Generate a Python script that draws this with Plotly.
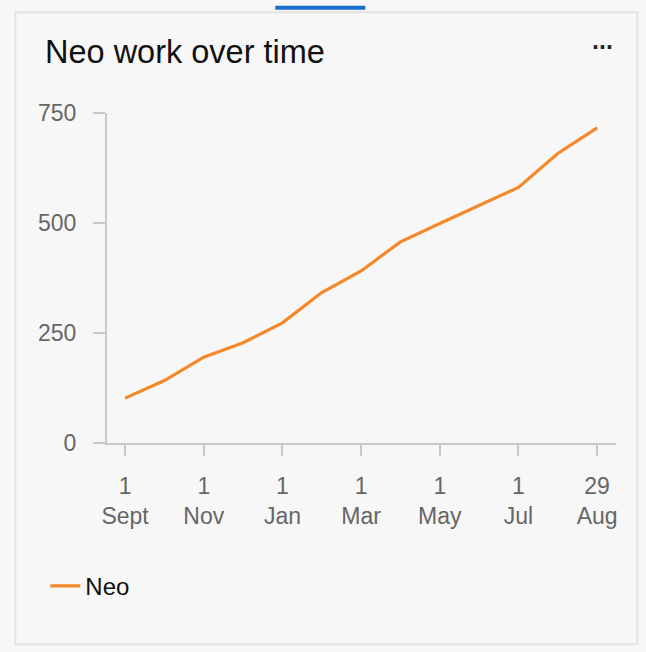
import plotly.graph_objects as go

# ---- data ----
dates = ["1 Sept", "1 Oct", "1 Nov", "1 Dec", "1 Jan", "1 Feb", "1 Mar",
         "1 Apr", "1 May", "1 Jun", "1 Jul", "1 Aug", "29 Aug"]
neo_values = [102, 142, 195, 228, 273, 342, 391, 457, 499, 540, 581, 658, 716]
tick_dates = ["1 Sept", "1 Nov", "1 Jan", "1 Mar", "1 May", "1 Jul", "29 Aug"]
tick_labels = ["1<br>Sept", "1<br>Nov", "1<br>Jan", "1<br>Mar", "1<br>May", "1<br>Jul", "29<br>Aug"]
y_ticks = [0, 250, 500, 750]
series_name = "Neo"
title_text = "Neo work over time"

# ---- geometry (pixels) ----
W, H = 646, 652
L, R, T, B = 106.7, 615.7, 112.7, 442.7
FONT = "Liberation Sans, Arial, Helvetica, sans-serif"


def px_x(p):
    return (p - L) / (R - L)


def px_y(p):
    return (B - p) / (B - T)


fig = go.Figure()
fig.add_trace(go.Scatter(
    x=dates, y=neo_values, mode="lines", name=series_name,
    line=dict(color="#F5892A", width=3.2),
    hoverinfo="x+y",
))

shapes = [
    # card border
    dict(type="rect", xref="paper", yref="paper",
         x0=px_x(15), x1=px_x(637), y0=px_y(644), y1=px_y(12),
         line=dict(color="#e4e4e4", width=2), fillcolor="#f7f7f7", layer="below"),
    # blue tab marker
    dict(type="rect", xref="paper", yref="paper",
         x0=px_x(275), x1=px_x(365), y0=px_y(9.5), y1=px_y(5.5),
         line=dict(width=0), fillcolor="#1a6fcc", layer="above"),
]

annotations = [
    dict(text=title_text, xref="paper", yref="paper", x=px_x(43), y=px_y(52),
         xanchor="left", yanchor="middle", showarrow=False,
         font=dict(family=FONT, size=32.5, color="#111111")),
    dict(text="<b>...</b>", xref="paper", yref="paper", x=px_x(602), y=px_y(40),
         xanchor="center", yanchor="middle", showarrow=False,
         font=dict(family=FONT, size=25, color="#222222")),
]

fig.update_layout(
    width=W, height=H,
    margin=dict(l=L, r=W - R, t=T, b=H - B, pad=0),
    paper_bgcolor="#f7f7f7", plot_bgcolor="#f7f7f7",
    font=dict(family=FONT, size=23, color="#666666"),
    shapes=shapes, annotations=annotations,
    showlegend=True,
    legend=dict(orientation="h", x=px_x(45), xanchor="left",
                y=px_y(586), yanchor="middle",
                font=dict(family=FONT, size=24, color="#111111"),
                bgcolor="rgba(0,0,0,0)"),
    xaxis=dict(type="category", range=[-0.46, 12.48],
               tickmode="array", tickvals=tick_dates, ticktext=tick_labels,
               showgrid=False, zeroline=False,
               showline=True, linecolor="#c8c8c8", linewidth=2,
               ticks="outside", ticklen=11, tickwidth=2, tickcolor="#c8c8c8",
               tickfont=dict(family=FONT, size=23, color="#666666"),
               ticklabelstandoff=10, fixedrange=True),
    yaxis=dict(range=[0, 750], tickmode="array", tickvals=y_ticks,
               showgrid=False, zeroline=False,
               showline=True, linecolor="#c8c8c8", linewidth=2,
               ticks="outside", ticklen=12, tickwidth=2, tickcolor="#c8c8c8",
               tickfont=dict(family=FONT, size=23, color="#666666"),
               ticklabelstandoff=12, fixedrange=True),
)

fig.write_html(
    "out.html",
    config={"displayModeBar": False},
    post_script="document.body.style.margin='0';document.body.style.background='#f7f7f7';",
)
